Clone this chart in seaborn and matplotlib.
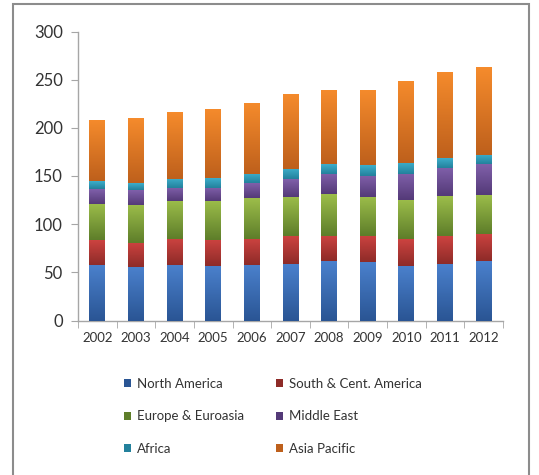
import numpy as np
import pandas as pd
import matplotlib
matplotlib.use("Agg")
import matplotlib.pyplot as plt
import matplotlib.colors as mcolors
from matplotlib.patches import Patch, Rectangle
import seaborn as sns

# Data
years = ['2002', '2003', '2004', '2005', '2006', '2007', '2008', '2009', '2010', '2011', '2012']
regions = ['North America', 'South & Cent. America', 'Europe & Euroasia',
           'Middle East', 'Africa', 'Asia Pacific']
north_america = [58, 55.5, 57.5, 56.5, 57.5, 58.5, 61.5, 60.5, 56.5, 58.5, 61.5]
south_cent_america = [25.5, 25, 27, 27, 27, 29, 26.5, 27, 28, 29, 28.5]
europe_euroasia = [37.5, 39.5, 39.5, 40.5, 42.5, 41, 43, 41, 40.5, 41.5, 40.5]
middle_east = [15.5, 15.5, 13.5, 14, 15.5, 18, 21, 22, 27, 29.5, 32]
africa = [8, 7.2, 9.5, 10, 9.5, 10.5, 10, 10.5, 11.5, 10, 9.5]
asia_pacific = [63.5, 67, 69, 72, 74, 78, 77, 78, 85.5, 89.5, 91]

series = [north_america, south_cent_america, europe_euroasia,
          middle_east, africa, asia_pacific]
# top / bottom colours of the excel-like gradient
top_colors = ['#4A80CC', '#CC4340', '#9CBD4A', '#8060AA', '#3DAECB', '#F58B2C']
bot_colors = ['#2A5594', '#8E2B28', '#5E7E2A', '#543A78', '#23819C', '#BE601C']

df = pd.DataFrame({'year': years})
for name, vals in zip(regions, series):
    df[name] = vals
cum = df[regions].cumsum(axis=1)

plt.rcParams['font.family'] = ['Lato', 'DejaVu Sans']
fig = plt.figure(figsize=(5.39, 4.75), dpi=100)
ax = fig.add_axes([78 / 539, 1 - 320.5 / 475, (503 - 78) / 539, (320.5 - 31.5) / 475])

# stacked bars: draw cumulative totals from the top layer down
bar_w = 0.41
for k in range(len(regions) - 1, -1, -1):
    sns.barplot(x=df['year'], y=cum[regions[k]], color=top_colors[k],
                width=bar_w, saturation=1, ax=ax, linewidth=0, zorder=2)

# gradient fill for every segment
grad = np.linspace(0, 1, 64).reshape(-1, 1)
for k in range(len(regions)):
    cmap = mcolors.LinearSegmentedColormap.from_list('g%d' % k, [bot_colors[k], top_colors[k]])
    lower = cum[regions[k - 1]] if k > 0 else pd.Series(np.zeros(len(years)))
    upper = cum[regions[k]]
    for i in range(len(years)):
        x0 = i - bar_w / 2
        im = ax.imshow(grad, cmap=cmap, origin='lower', aspect='auto',
                       extent=[x0, x0 + bar_w, lower.iloc[i], upper.iloc[i]], zorder=3)
        clip = Rectangle((x0, lower.iloc[i]), bar_w, upper.iloc[i] - lower.iloc[i],
                         transform=ax.transData)
        im.set_clip_path(clip)

ax.set_xlim(-0.5, len(years) - 0.5)
ax.set_ylim(0, 300)
ax.set_yticks(range(0, 301, 50))
ax.set_xlabel('')
ax.set_ylabel('')
for s in ['top', 'right']:
    ax.spines[s].set_visible(False)
for s in ['left', 'bottom']:
    ax.spines[s].set_color('#A6A6A6')
    ax.spines[s].set_linewidth(1)
ax.set_xticks(np.arange(len(years)))
ax.set_xticklabels(years, fontsize=9.5, color='#333333')
ax.tick_params(axis='x', length=0, pad=8)
ax.set_xticks(np.arange(len(years) + 1) - 0.5, minor=True)
ax.tick_params(axis='x', which='minor', length=5, color='#A6A6A6', direction='out')
ax.tick_params(axis='y', length=5, color='#A6A6A6', labelsize=12, labelcolor='#333333', pad=6)

# legend below, rows ordered like the reference
handles = [Patch(facecolor=c, edgecolor='none') for c in bot_colors]
order = [0, 2, 4, 1, 3, 5]
fig.legend([handles[i] for i in order], [regions[i] for i in order],
           ncol=2, loc='upper left', bbox_to_anchor=(112 / 539, 1 - 366 / 475),
           frameon=False, fontsize=9.5, handlelength=0.55, handleheight=0.55,
           handletextpad=0.45, labelspacing=1.55, columnspacing=2.4,
           labelcolor='#333333')

# chart area border
fig.patches.append(Rectangle((13 / 539, -0.05), (529 - 13) / 539, 1.05 - 4 / 475,
                             transform=fig.transFigure, fill=False,
                             edgecolor='#8C8C8C', linewidth=1.5))

fig.savefig('out.png', dpi=100)
